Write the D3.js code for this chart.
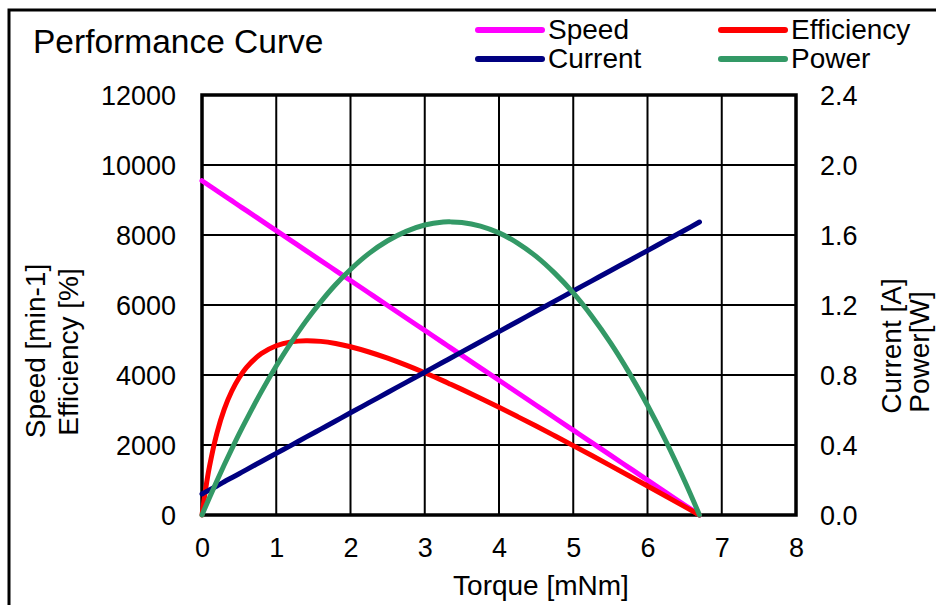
<!DOCTYPE html>
<html>
<head>
<meta charset="utf-8">
<script src="https://cdn.jsdelivr.net/npm/d3@7"></script>
<style>
  html, body { margin: 0; padding: 0; background: #fff; }
  svg { display: block; font-family: "Liberation Sans", Arial, sans-serif; }
</style>
</head>
<body>
<svg id="chart" width="936" height="605"></svg>
<script>
// Motor performance data: torque [mNm] vs speed, efficiency, current and output power
const torque     = [0, 0.05, 0.1, 0.2, 0.3, 0.4, 0.5, 0.6, 0.8, 1.0, 1.2, 1.4, 1.6, 1.8, 2.0, 2.25, 2.5, 2.75, 3.0, 3.25, 3.35, 3.5, 3.75, 4.0, 4.25, 4.5, 4.75, 5.0, 5.25, 5.5, 5.75, 6.0, 6.25, 6.5, 6.7];
const speed      = [9550, 9479, 9407, 9265, 9122, 8980, 8837, 8695, 8410, 8125, 7840, 7555, 7269, 6984, 6699, 6343, 5987, 5630, 5274, 4918, 4775, 4561, 4205, 3849, 3492, 3136, 2779, 2423, 2067, 1710, 1354, 998, 641, 285, 0];
const efficiency = [0, 754, 1376, 2332, 3023, 3535, 3921, 4217, 4612, 4836, 4947, 4981, 4961, 4900, 4807, 4657, 4480, 4280, 4063, 3832, 3735, 3589, 3337, 3078, 2811, 2540, 2263, 1983, 1699, 1412, 1122, 830, 535, 238, 0];
const current    = [0.12, 0.132, 0.143, 0.166, 0.190, 0.213, 0.236, 0.259, 0.306, 0.352, 0.398, 0.445, 0.491, 0.537, 0.584, 0.642, 0.700, 0.758, 0.816, 0.874, 0.897, 0.932, 0.990, 1.048, 1.106, 1.164, 1.222, 1.280, 1.338, 1.396, 1.453, 1.511, 1.569, 1.627, 1.674];
const power      = [0, 0.050, 0.099, 0.194, 0.287, 0.376, 0.463, 0.546, 0.705, 0.851, 0.985, 1.108, 1.218, 1.317, 1.403, 1.495, 1.567, 1.621, 1.657, 1.674, 1.675, 1.672, 1.651, 1.612, 1.554, 1.478, 1.382, 1.269, 1.136, 0.985, 0.815, 0.627, 0.420, 0.194, 0];

const xTicks      = [0, 1, 2, 3, 4, 5, 6, 7, 8];
const leftTicks   = [0, 2000, 4000, 6000, 8000, 10000, 12000];
const rightTicks  = [0, 0.4, 0.8, 1.2, 1.6, 2.0, 2.4];

const seriesNames  = ["Speed", "Efficiency", "Current", "Power"];
const seriesColors = ["#FF00FF", "#FF0000", "#000080", "#339966"];

const svg = d3.select("#chart");
const plot = { left: 202, right: 796, top: 95, bottom: 515 };

const x  = d3.scaleLinear().domain([0, 8]).range([plot.left, plot.right]);
const yL = d3.scaleLinear().domain([0, 12000]).range([plot.bottom, plot.top]);
const yR = d3.scaleLinear().domain([0, 2.4]).range([plot.bottom, plot.top]);

// outer frame of the figure
svg.append("rect")
  .attr("x", 9).attr("y", 10).attr("width", 1000).attr("height", 700)
  .attr("fill", "none").attr("stroke", "#000").attr("stroke-width", 3);

// title
svg.append("text")
  .attr("x", 33).attr("y", 53)
  .attr("font-size", 33.5).attr("fill", "#000")
  .text("Performance Curve");

// grid lines
const grid = svg.append("g").attr("stroke", "#000").attr("stroke-width", 2);
grid.selectAll("line.v").data(xTicks.slice(1, -1)).join("line")
  .attr("x1", d => x(d)).attr("x2", d => x(d))
  .attr("y1", plot.top).attr("y2", plot.bottom);
grid.selectAll("line.h").data(leftTicks.slice(1, -1)).join("line")
  .attr("x1", plot.left).attr("x2", plot.right)
  .attr("y1", d => yL(d)).attr("y2", d => yL(d));

// plot border
svg.append("rect")
  .attr("x", plot.left).attr("y", plot.top)
  .attr("width", plot.right - plot.left).attr("height", plot.bottom - plot.top)
  .attr("fill", "none").attr("stroke", "#000").attr("stroke-width", 3.5);

// axes (labels only; lines are drawn by the grid and border)
const xAxis = d3.axisBottom(x).tickValues(xTicks).tickSize(0).tickPadding(0).tickFormat(d3.format("d"));
const gx = svg.append("g").attr("transform", `translate(0,${plot.bottom})`).call(xAxis);
gx.select(".domain").remove();
gx.selectAll("text").attr("font-size", 27).attr("font-family", "Liberation Sans, Arial, sans-serif")
  .attr("fill", "#000").attr("dy", null).attr("y", 42);

const lAxis = d3.axisLeft(yL).tickValues(leftTicks).tickSize(0).tickPadding(0).tickFormat(d3.format("d"));
const gl = svg.append("g").attr("transform", `translate(176,0)`).call(lAxis);
gl.select(".domain").remove();
gl.selectAll("text").attr("font-size", 27).attr("font-family", "Liberation Sans, Arial, sans-serif")
  .attr("fill", "#000").attr("x", 0).attr("dy", "0.36em");

const rAxis = d3.axisRight(yR).tickValues(rightTicks).tickSize(0).tickPadding(0).tickFormat(d3.format(".1f"));
const gr = svg.append("g").attr("transform", `translate(820,0)`).call(rAxis);
gr.select(".domain").remove();
gr.selectAll("text").attr("font-size", 27).attr("font-family", "Liberation Sans, Arial, sans-serif")
  .attr("fill", "#000").attr("x", 0).attr("dy", "0.36em");

// axis titles
svg.append("text").attr("x", 541).attr("y", 595).attr("text-anchor", "middle")
  .attr("font-size", 28).text("Torque [mNm]");
svg.append("text").attr("transform", "translate(45,351) rotate(-90)").attr("text-anchor", "middle")
  .attr("font-size", 28).text("Speed [min-1]");
svg.append("text").attr("transform", "translate(78,352) rotate(-90)").attr("text-anchor", "middle")
  .attr("font-size", 28).text("Efficiency [%]");
svg.append("text").attr("transform", "translate(901,346) rotate(-90)").attr("text-anchor", "middle")
  .attr("font-size", 28).text("Current [A]");
svg.append("text").attr("transform", "translate(929,352) rotate(-90)").attr("text-anchor", "middle")
  .attr("font-size", 28).text("Power[W]");

// series lines
const series = [
  { values: speed,      y: yL },
  { values: efficiency, y: yL },
  { values: current,    y: yR },
  { values: power,      y: yR }
];
series.forEach((s, i) => {
  const line = d3.line()
    .x((d, j) => x(torque[j]))
    .y(d => s.y(d))
    .curve(d3.curveCatmullRom.alpha(0.5));
  svg.append("path")
    .attr("d", line(s.values))
    .attr("fill", "none")
    .attr("stroke", seriesColors[i])
    .attr("stroke-width", 5)
    .attr("stroke-linecap", "round")
    .attr("stroke-linejoin", "round");
});

// legend (two columns, two rows)
const legendPos = [
  { lx: 478, ly: 30 }, { lx: 721, ly: 30 },
  { lx: 478, ly: 59 }, { lx: 721, ly: 59 }
];
seriesNames.forEach((name, i) => {
  const p = legendPos[i];
  svg.append("line")
    .attr("x1", p.lx).attr("x2", p.lx + 64)
    .attr("y1", p.ly).attr("y2", p.ly)
    .attr("stroke", seriesColors[i]).attr("stroke-width", 6)
    .attr("stroke-linecap", "round");
  svg.append("text")
    .attr("x", p.lx + 70).attr("y", p.ly + 9)
    .attr("font-size", 28).text(name);
});
</script>
</body>
</html>
